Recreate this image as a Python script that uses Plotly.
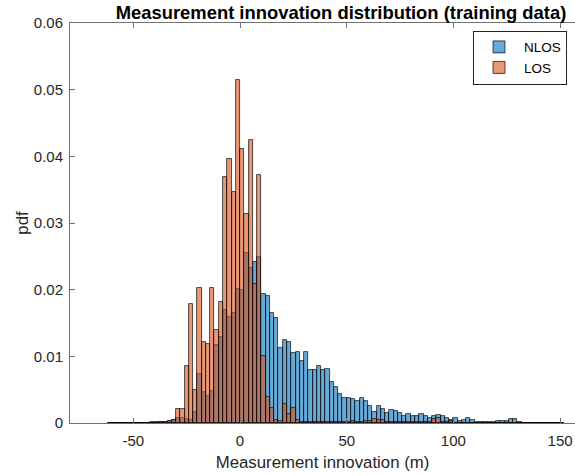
import plotly.graph_objects as go

# Bin centres (bin width 2 m)
bin_centers = [-61, -59, -57, -55, -53, -51, -49, -47, -45, -43, -41,
               -39, -37, -35, -33, -31, -29, -27, -25, -23, -21,
               -19, -17, -15, -13, -11, -9, -7, -5, -3, -1,
               1, 3, 5, 7, 9, 11, 13, 15, 17, 19,
               21, 23, 25, 27, 29, 31, 33, 35, 37, 39,
               41, 43, 45, 47, 49, 51, 53, 55, 57, 59,
               61, 63, 65, 67, 69, 71, 73, 75, 77, 79,
               81, 83, 85, 87, 89, 91, 93, 95, 97, 99,
               101, 103, 105, 107, 109, 111, 113, 115, 117, 119,
               121, 123, 125, 127, 129, 131, 133, 135, 137, 139,
               141, 143, 145, 147, 149, 151]

nlos_pdf = [0.00005, 0.00005, 0, 0, 0, 0, 0, 0, 0.00005, 0.00005, 0.0001,
            0.0001, 0.0001, 0.0002, 0.0003, 0.0004, 0.0007, 0.00075, 0.0006, 0.0005, 0.0017,
            0.0074, 0.0047, 0.0040, 0.0048, 0.0117, 0.0129, 0.0170, 0.0159, 0.0165, 0.0201,
            0.0200, 0.0255, 0.0232, 0.0242, 0.0249, 0.0193, 0.0191, 0.0165, 0.0157, 0.0112,
            0.0124, 0.0121, 0.0105, 0.0107, 0.0093, 0.0106, 0.0079, 0.0079, 0.0085, 0.0079,
            0.0081, 0.0061, 0.0054, 0.0043, 0.0038, 0.0038, 0.0036, 0.0033, 0.0038, 0.0033,
            0.0025, 0.0017, 0.0026, 0.0021, 0.0015, 0.0020, 0.0018, 0.0015, 0.0010, 0.0013,
            0.0010, 0.0011, 0.0014, 0.0010, 0.0007, 0.0010, 0.0012, 0.0010, 0.0008, 0.0005,
            0.0007, 0.0003, 0.0004, 0.0007, 0.0004, 0.0002, 0.0002, 0.0001, 0.0002, 0.0002,
            0.0003, 0.0003, 0.0003, 0.0006, 0.0006, 0.0001, 0.00005, 0.00005, 0.00005, 0.00005,
            0.00005, 0.00005, 0.00005, 0.00005, 0.00005, 0.00005]

los_pdf = [0, 0, 0, 0, 0, 0, 0, 0, 0, 0.00005, 0.00005,
           0.00005, 0.0001, 0.0002, 0.0003, 0.0005, 0.0021, 0.0021, 0.0086, 0.0178, 0.0049,
           0.0203, 0.0122, 0.0119, 0.0203, 0.0140, 0.0181, 0.0369, 0.0396, 0.0347, 0.0515,
           0.0411, 0.0313, 0.0424, 0.0209, 0.0372, 0.0101, 0.0039, 0.0022, 0.0005, 0.0003,
           0.0028, 0.0013, 0.0022, 0.0004, 0.0002, 0.0002, 0.0002, 0.0002, 0.0002, 0.0002,
           0.0002, 0.0001, 0.0001, 0.0001, 0.0001, 0.0001, 0.0003, 0.0001, 0.0001, 0.0003,
           0.0003, 0.0006, 0.0005, 0.0004, 0.0001, 0.0001, 0.0001, 0.0001, 0.0001, 0.0001,
           0.0001, 0.0001, 0.0001, 0.0001, 0.0001, 0.0006, 0.0007, 0.0002, 0.0001, 0.0003,
           0.00005, 0.00005, 0.00005, 0.00005, 0.00005, 0.00005, 0.00005, 0.00005, 0.00005, 0.00005,
           0.00005, 0, 0, 0, 0, 0, 0, 0, 0, 0,
           0, 0, 0, 0, 0, 0]

x_ticks = [-50, 0, 50, 100, 150]
x_tick_text = ["-50", "0", "50", "100", "150"]
y_ticks = [0, 0.01, 0.02, 0.03, 0.04, 0.05, 0.06]
y_tick_text = ["0", "0.01", "0.02", "0.03", "0.04", "0.05", "0.06"]

FONT = "Liberation Sans, Arial, sans-serif"
TXT = "#262626"
AX = "#707070"

fig = go.Figure()
fig.add_trace(go.Bar(
    x=bin_centers, y=nlos_pdf, width=2, name="NLOS",
    marker=dict(color="rgba(0,114,189,0.6)",
                line=dict(color="rgba(0,0,0,0.85)", width=0.8)),
))
fig.add_trace(go.Bar(
    x=bin_centers, y=los_pdf, width=2, name="LOS",
    marker=dict(color="rgba(217,83,25,0.6)",
                line=dict(color="rgba(0,0,0,0.85)", width=0.8)),
))

W, H = 575, 476
ml, mr, mt, mb = 70, 0, 23, 53
pw = W - ml - mr

fig.update_layout(
    width=W, height=H,
    margin=dict(l=ml, r=mr, t=mt, b=mb),
    barmode="overlay", bargap=0,
    plot_bgcolor="white", paper_bgcolor="white",
    font=dict(family=FONT, size=15, color=TXT),
    title=dict(text="<b>Measurement innovation distribution (training data)</b>",
               font=dict(family=FONT, size=18.4, color="#000000"),
               x=(341 - ml) / pw, xref="paper", xanchor="center",
               y=1 - 13 / H, yref="container", yanchor="middle"),
    legend=dict(x=(567 - ml) / pw, xanchor="right", y=0.981, yanchor="top",
                bgcolor="white", bordercolor=TXT, borderwidth=1,
                font=dict(family=FONT, size=13.5, color="#000000"),
                tracegroupgap=0, itemwidth=40),
    showlegend=True,
)
fig.update_xaxes(
    range=[-79.7, 157.0], tickvals=x_ticks, ticktext=x_tick_text,
    ticks="inside", ticklen=5, ticklabelstandoff=4,
    tickcolor=AX, showline=True, linecolor=AX, linewidth=1, mirror="ticks",
    showgrid=False, zeroline=False,
    tickfont=dict(family=FONT, size=15, color=TXT),
    title=dict(text="Measurement innovation (m)", font=dict(family=FONT, size=16.8, color=TXT),
               standoff=8),
)
fig.update_yaxes(
    range=[0, 0.06], tickvals=y_ticks, ticktext=y_tick_text,
    ticks="inside", ticklen=5,
    tickcolor=AX, showline=True, linecolor=AX, linewidth=1, mirror=False,
    showgrid=False, zeroline=False, ticklabelstandoff=3,
    tickfont=dict(family=FONT, size=15, color=TXT),
    title=dict(text="pdf", font=dict(family=FONT, size=16.8, color=TXT), standoff=0),
)

fig.write_html("out.html")
